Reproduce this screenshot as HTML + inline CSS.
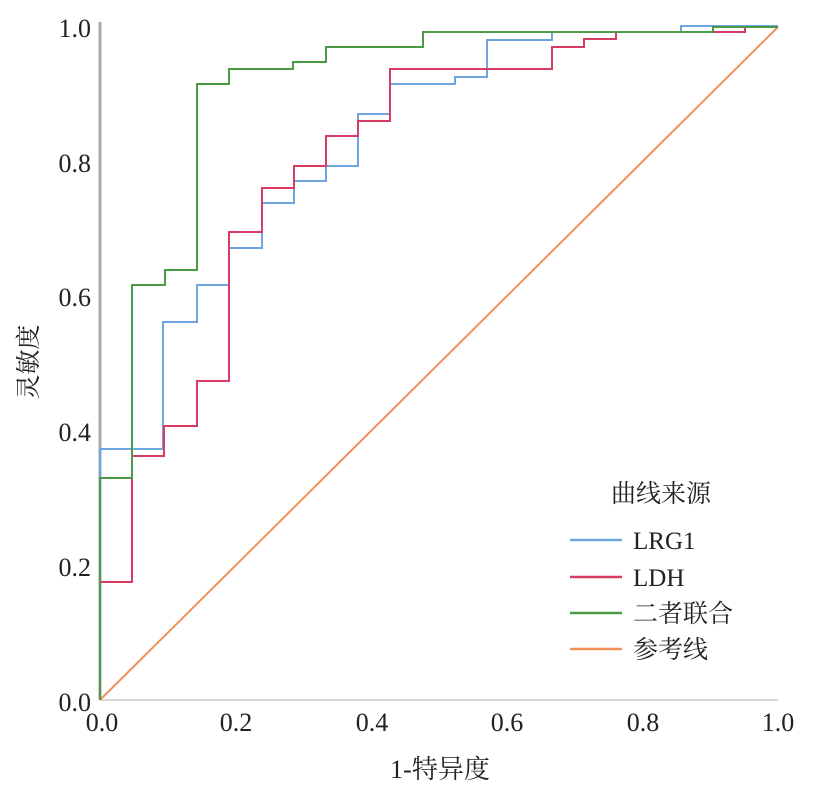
<!DOCTYPE html>
<html><head><meta charset="utf-8"><style>
html,body{margin:0;padding:0;background:#fff;}
svg{display:block;}
text{font-family:"Liberation Serif","Noto Serif CJK SC","Noto Sans CJK SC",serif;fill:#222;}
</style></head><body>
<svg width="819" height="796" viewBox="0 0 819 796" xmlns="http://www.w3.org/2000/svg">
<line x1="100" y1="700" x2="778" y2="700" stroke="#d8d8d8" stroke-width="2"/>
<line x1="100" y1="22" x2="100" y2="700" stroke="#aaa" stroke-width="3"/>
<g fill="none" stroke-width="2">
<line x1="100" y1="700" x2="778" y2="27" stroke="#f0915a"/>
<polyline stroke="#6ea6e0" points="100,700 100,449 163,449 163,322 197,322 197,285 229,285 229,248 262,248 262,203 294,203 294,181 326,181 326,166 358,166 358,114 390,114 390,84 455,84 455,77 487,77 487,40 552,40 552,32 681,32 681,26 778,26"/>
<polyline stroke="#d83c62" points="100,700 100,582 132,582 132,456 164,456 164,426 197,426 197,381 229,381 229,232 262,232 262,188 294,188 294,166 326,166 326,136 358,136 358,121 390,121 390,69 552,69 552,47 584,47 584,39 616,39 616,32 745,32 745,27 778,27"/>
<polyline stroke="#4a9a46" points="100,700 100,478 132,478 132,285 165,285 165,270 197,270 197,84 229,84 229,69 293,69 293,62 326,62 326,47 423,47 423,32 713,32 713,27 778,27"/>
</g>
<g font-size="26" text-anchor="end">
<text x="91" y="37">1.0</text>
<text x="91" y="172">0.8</text>
<text x="91" y="306">0.6</text>
<text x="91" y="441">0.4</text>
<text x="91" y="576">0.2</text>
<text x="91" y="711">0.0</text>
</g>
<g font-size="26" text-anchor="middle">
<text x="102" y="731">0.0</text>
<text x="236" y="731">0.2</text>
<text x="372" y="731">0.4</text>
<text x="507" y="731">0.6</text>
<text x="643" y="731">0.8</text>
<text x="778" y="731">1.0</text>
<text x="440" y="778">1-特异度</text>
</g>
<text font-size="25" text-anchor="middle" transform="translate(37,362) rotate(-90)">灵敏度</text>
<text x="611" y="502" font-size="25">曲线来源</text>
<g stroke-width="2.5">
<line x1="570" y1="540" x2="622" y2="540" stroke="#6ea6e0"/>
<line x1="570" y1="577" x2="622" y2="577" stroke="#d83c62"/>
<line x1="570" y1="613" x2="622" y2="613" stroke="#4a9a46"/>
<line x1="570" y1="649" x2="622" y2="649" stroke="#f0915a"/>
</g>
<g font-size="25">
<text x="633" y="549">LRG1</text>
<text x="633" y="586">LDH</text>
<text x="633" y="622">二者联合</text>
<text x="633" y="658">参考线</text>
</g>
</svg>
</body></html>
